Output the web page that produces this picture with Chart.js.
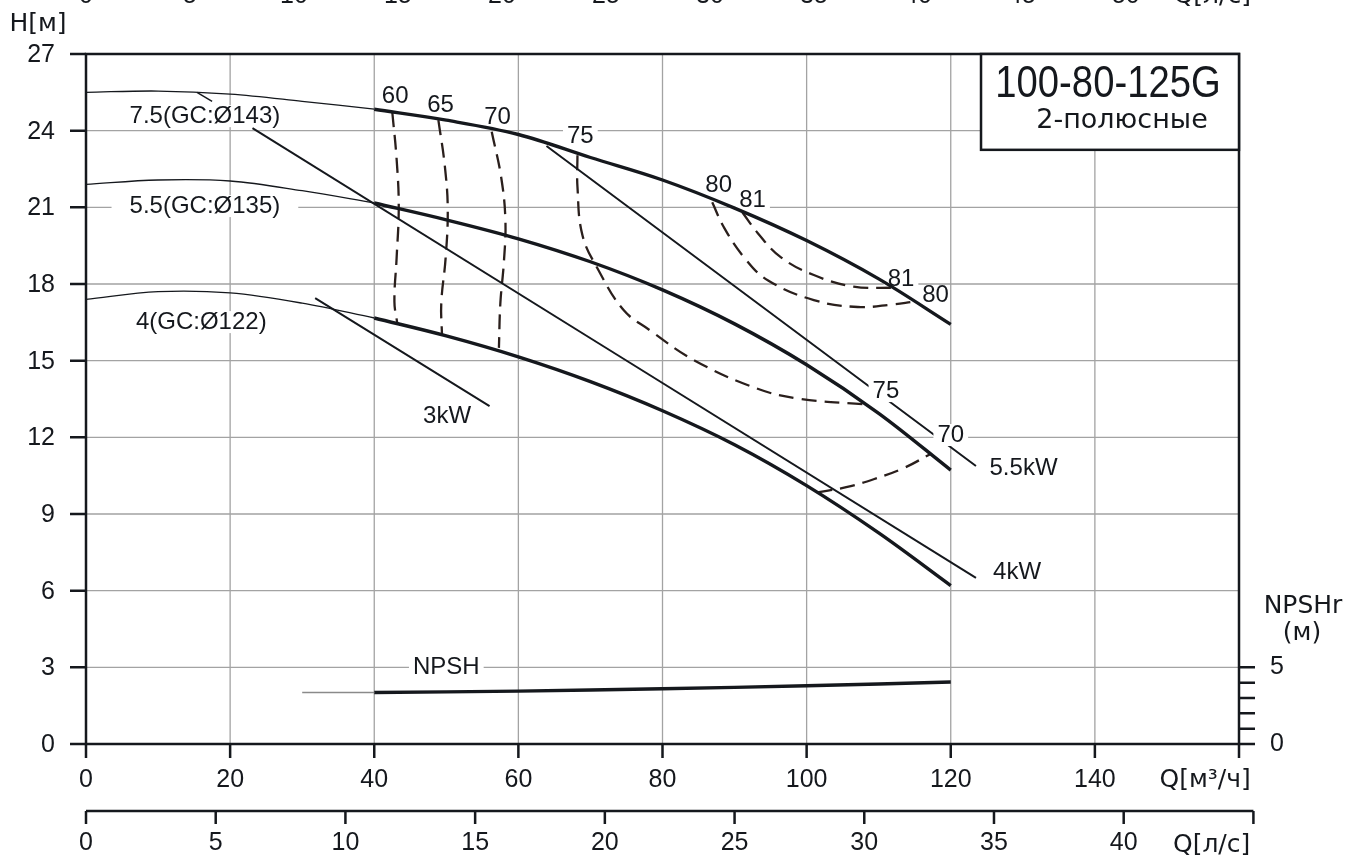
<!DOCTYPE html>
<html>
<head>
<meta charset="utf-8">
<title>100-80-125G</title>
<script src="https://cdn.jsdelivr.net/npm/chart.js@4.4.1/dist/chart.umd.min.js"></script>
<style>
  body { margin: 0; background: #fff; }
</style>
</head>
<body>
<canvas id="pumpChart" width="1366" height="858"></canvas>
<script>
/* Pump curve 100-80-125G, 2-pole: H(Q), power lines, efficiency islands, NPSH */

// axes
const xTicks = [0, 20, 40, 60, 80, 100, 120, 140, 160];      // Q, m3/h
const yTicks = [0, 3, 6, 9, 12, 15, 18, 21, 24, 27];          // H, m
const lsTicks = [0, 5, 10, 15, 20, 25, 30, 35, 40, 45];       // Q, l/s (bottom axis)
const topTicks = [0, 5, 10, 15, 20, 25, 30, 35, 40, 45, 50];  // cut-off axis at the very top
const npshTicks = [0, 1, 2, 3, 4, 5];                         // NPSHr, m

// impeller curves, thin part and working part
const qThin = [0, 10, 20, 30, 40];
const qWork = [40, 50, 60, 70, 80, 90, 100, 110, 120];
const hThin143 = [25.5, 25.55, 25.43, 25.15, 24.84];
const hWork143 = [24.84, 24.41, 23.85, 22.95, 22.07, 20.97, 19.7, 18.2, 16.42];
const hThin135 = [21.9, 22.07, 22.03, 21.65, 21.17];
const hWork135 = [21.17, 20.51, 19.77, 18.87, 17.77, 16.44, 14.84, 12.94, 10.72];
const hThin122 = [17.4, 17.7, 17.65, 17.25, 16.67];
const hWork122 = [16.67, 15.97, 15.15, 14.18, 13.04, 11.71, 10.11, 8.26, 6.2];

// motor power limit lines
const q3kW = [31.8, 56];     const h3kW = [17.45, 13.22];
const q4kW = [23.1, 123.5];  const h4kW = [24.1, 6.5];
const q55kW = [63.9, 123.5]; const h55kW = [23.4, 10.88];
const qLeader = [15.4, 17.5]; const hLeader = [25.5, 25.15];

// efficiency lines (%)
const qEta60 = [42.5, 43.1, 43.4, 43.1, 42.8, 43.2];
const hEta60 = [24.73, 22.9, 21.0, 19.0, 17.3, 16.45];
const qEta65 = [48.9, 49.8, 50.2, 49.9, 49.3, 49.4];
const hEta65 = [24.41, 22.6, 20.9, 19.0, 17.25, 16.0];
const qEta70 = [56.3, 57.6, 58.2, 58.0, 57.5, 57.3];
const hEta70 = [23.96, 22.2, 20.5, 18.9, 17.25, 15.5];
const qEta75 = [68.2, 68.2, 68.9, 71.1, 74.6, 78.2, 84.5, 93.2, 99.2, 107.8];
const hEta75 = [23.04, 21.8, 19.9, 18.55, 16.98, 16.2, 15.0, 13.9, 13.5, 13.3];
const qEta70b = [101.5, 105.5, 109.3, 113.5, 117.2];
const hEta70b = [9.85, 10.05, 10.36, 10.8, 11.35];
const qEta80 = [86.9, 88.5, 91.3, 94.6, 101, 107.1, 112, 114.7];
const hEta80 = [21.2, 20.23, 19.05, 18.15, 17.37, 17.1, 17.2, 17.3];
const qEta81 = [91.1, 93.2, 96.4, 101, 106.5, 112.5];
const hEta81 = [20.8, 20.0, 19.05, 18.35, 17.9, 17.85];

// NPSHr
const qNpshThin = [30, 40];
const npshThin = [3.36, 3.36];
const qNpsh = [40, 60, 80, 100, 120];
const npsh = [3.36, 3.45, 3.6, 3.8, 4.04];

const lsToM3h = 3.6;
const topUnit = 2.886; // spacing of the cut-off top axis, in m3/h per unit

const ink = '#15181d';
const dashInk = '#2a1f1c';
const gridColor = '#a3a3a3';
const tickFont = '25px "Liberation Sans", Arial, sans-serif';
const noteFont = '24px "Liberation Sans", Arial, sans-serif';
const unitFont = '25px "DejaVu Sans", sans-serif';

// text notes on the plot: [text, Q, H, background: 0 none, 1 under curves, 2 over curves]
const notes = [
    ['60', 42.9, 25.35, 0],
    ['65', 49.2, 25.0, 0],
    ['70', 57.1, 24.53, 0],
    ['75', 68.6, 23.79, 1],
    ['80', 87.8, 21.87, 0],
    ['81', 92.5, 21.28, 1],
    ['81', 113.1, 18.19, 1],
    ['80', 117.9, 17.57, 0],
    ['75', 111.0, 13.81, 2],
    ['70', 120.0, 12.09, 2],
    ['5.5kW', 130.1, 10.8, 0],
    ['4kW', 129.2, 6.73, 0],
    ['3kW', 50.1, 12.83, 0],
    ['NPSH', 50.0, 3.01, 1],
    ['7.5(GC:Ø143)', 16.5, 24.57, 1],
    ['5.5(GC:Ø135)', 16.5, 21.05, 1],
    ['4(GC:Ø122)', 16.0, 16.51, 1]
];

const pts = (qs, hs) => qs.map((q, i) => ({x: q, y: hs[i]}));

function curve(qs, hs, width, extra) {
    return Object.assign({
        data: pts(qs, hs),
        showLine: true,
        borderColor: ink,
        borderWidth: width,
        borderJoinStyle: 'round',
        pointRadius: 0,
        fill: false,
        tension: 0.35,
        yAxisID: 'y'
    }, extra || {});
}

function effLine(qs, hs) {
    return curve(qs, hs, 2.3, {
        borderColor: dashInk,
        borderDash: [15, 8],
        tension: 0.4
    });
}

const datasets = [
    curve(qThin, hThin143, 1.3),
    curve(qThin, hThin135, 1.3),
    curve(qThin, hThin122, 1.3),
    curve(qWork, hWork143, 3.4),
    curve(qWork, hWork135, 3.4),
    curve(qWork, hWork122, 3.4),
    curve(q3kW, h3kW, 2),
    curve(q4kW, h4kW, 2),
    curve(q55kW, h55kW, 2),
    curve(qLeader, hLeader, 1.5),
    effLine(qEta60, hEta60),
    effLine(qEta65, hEta65),
    effLine(qEta70, hEta70),
    effLine(qEta75, hEta75),
    effLine(qEta70b, hEta70b),
    effLine(qEta80, hEta80),
    effLine(qEta81, hEta81),
    curve(qNpshThin, npshThin, 1.3, {yAxisID: 'yN', borderColor: '#8a8a8a'}),
    curve(qNpsh, npsh, 3.4, {yAxisID: 'yN'})
];

function text(ctx, str, px, py, align, font) {
    ctx.font = font;
    ctx.textAlign = align;
    ctx.textBaseline = 'middle';
    ctx.fillStyle = ink;
    ctx.fillText(str, px, py);
}

function noteBoxes(chart, mode) {
    const {ctx, scales: {x, y}} = chart;
    ctx.font = noteFont;
    ctx.fillStyle = '#fff';
    notes.forEach(([str, q, h, bg]) => {
        if (bg !== mode) return;
        const w = ctx.measureText(str).width;
        const pad = str.length > 5 ? 18 : 4;
        ctx.fillRect(x.getPixelForValue(q) - w / 2 - pad, y.getPixelForValue(h) - 11, w + 2 * pad, 22);
    });
}

const pumpDrawer = {
    id: 'pumpDrawer',
    beforeDatasetsDraw(chart) {
        const {ctx, chartArea: a, scales: {x, y}} = chart;
        ctx.save();
        ctx.strokeStyle = gridColor;
        ctx.lineWidth = 1.3;
        ctx.beginPath();
        xTicks.slice(1, -1).forEach(v => {
            const px = x.getPixelForValue(v);
            ctx.moveTo(px, a.top);
            ctx.lineTo(px, a.bottom);
        });
        yTicks.slice(1, -1).forEach(v => {
            const py = y.getPixelForValue(v);
            ctx.moveTo(a.left, py);
            ctx.lineTo(a.right, py);
        });
        ctx.stroke();
        noteBoxes(chart, 1);
        ctx.restore();
    },
    afterDatasetsDraw(chart) {
        const {ctx, chartArea: a, scales: {x, y, yN}} = chart;
        ctx.save();

        // notes on the plot
        noteBoxes(chart, 2);
        notes.forEach(([str, q, h]) => {
            text(ctx, str, x.getPixelForValue(q), y.getPixelForValue(h), 'center', noteFont);
        });

        // frame and axes
        ctx.strokeStyle = ink;
        ctx.lineWidth = 2.5;
        ctx.strokeRect(a.left, a.top, a.right - a.left, a.bottom - a.top);
        ctx.beginPath();
        ctx.moveTo(a.left, a.bottom);
        ctx.lineTo(a.left, a.bottom + 14);
        ctx.moveTo(a.right, a.bottom);
        ctx.lineTo(a.right, a.bottom + 14);
        yTicks.forEach(v => {
            const py = y.getPixelForValue(v);
            ctx.moveTo(a.left - 16, py);
            ctx.lineTo(a.left, py);
            text(ctx, String(v), a.left - 31, py + 1, 'right', tickFont);
        });
        xTicks.forEach(v => {
            const px = x.getPixelForValue(v);
            ctx.moveTo(px, a.bottom);
            ctx.lineTo(px, a.bottom + 14);
            if (v < 160) text(ctx, String(v), px, a.bottom + 36, 'center', tickFont);
        });
        npshTicks.forEach(v => {
            const py = yN.getPixelForValue(v);
            ctx.moveTo(a.right, py);
            ctx.lineTo(a.right + 16, py);
        });
        ctx.stroke();
        text(ctx, '5', a.right + 38, yN.getPixelForValue(5), 'center', tickFont);
        text(ctx, '0', a.right + 38, yN.getPixelForValue(0), 'center', tickFont);
        text(ctx, 'NPSHr', a.right + 64, 606, 'center', unitFont);
        text(ctx, '(м)', a.right + 63, 633, 'center', unitFont);
        text(ctx, 'Q[м³/ч]', x.getPixelForValue(155.3), a.bottom + 36, 'center', unitFont);
        text(ctx, 'H[м]', 38, 24, 'center', unitFont);

        // second Q axis in l/s
        const ly = a.bottom + 67;
        ctx.beginPath();
        ctx.moveTo(a.left, ly);
        ctx.lineTo(x.getPixelForValue(45 * lsToM3h), ly);
        lsTicks.forEach(v => {
            const px = x.getPixelForValue(v * lsToM3h);
            ctx.moveTo(px, ly);
            ctx.lineTo(px, ly + 13);
            if (v < 45) text(ctx, String(v), px, ly + 32, 'center', tickFont);
        });
        ctx.stroke();
        text(ctx, 'Q[л/с]', x.getPixelForValue(156.2), ly + 34, 'center', unitFont);

        // axis of the chart above, cut by the picture edge
        ctx.textBaseline = 'bottom';
        ctx.textAlign = 'center';
        ctx.fillStyle = ink;
        ctx.font = tickFont;
        topTicks.forEach(v => ctx.fillText(String(v), x.getPixelForValue(v * topUnit), 9));
        ctx.font = unitFont;
        ctx.fillText('Q[л/с]', x.getPixelForValue(156.3), 9);

        // model box
        const bx = x.getPixelForValue(124.2);
        const by = y.getPixelForValue(23.25);
        ctx.fillStyle = '#fff';
        ctx.fillRect(bx, a.top, a.right - bx, by - a.top);
        ctx.strokeRect(bx, a.top, a.right - bx, by - a.top);
        ctx.save();
        ctx.translate((bx + a.right) / 2 - 2, a.top + 31);
        ctx.scale(0.85, 1);
        text(ctx, '100-80-125G', 0, 0, 'center', '45px "Liberation Sans", Arial, sans-serif');
        ctx.restore();
        text(ctx, '2-полюсные', (bx + a.right) / 2 + 12, a.top + 67, 'center', '27px "DejaVu Sans", sans-serif');
        ctx.restore();
    }
};

new Chart(document.getElementById('pumpChart'), {
    type: 'scatter',
    data: { datasets: datasets },
    options: {
        responsive: false,
        devicePixelRatio: 1,
        animation: false,
        layout: { padding: { left: 86, right: 127, top: 54, bottom: 114 } },
        scales: {
            x: { type: 'linear', min: 0, max: 160, display: false },
            y: { type: 'linear', min: 0, max: 27, display: false },
            yN: { type: 'linear', min: 0, max: 45, display: false }
        },
        plugins: {
            legend: { display: false },
            tooltip: { enabled: false }
        }
    },
    plugins: [pumpDrawer]
});
</script>
</body>
</html>
